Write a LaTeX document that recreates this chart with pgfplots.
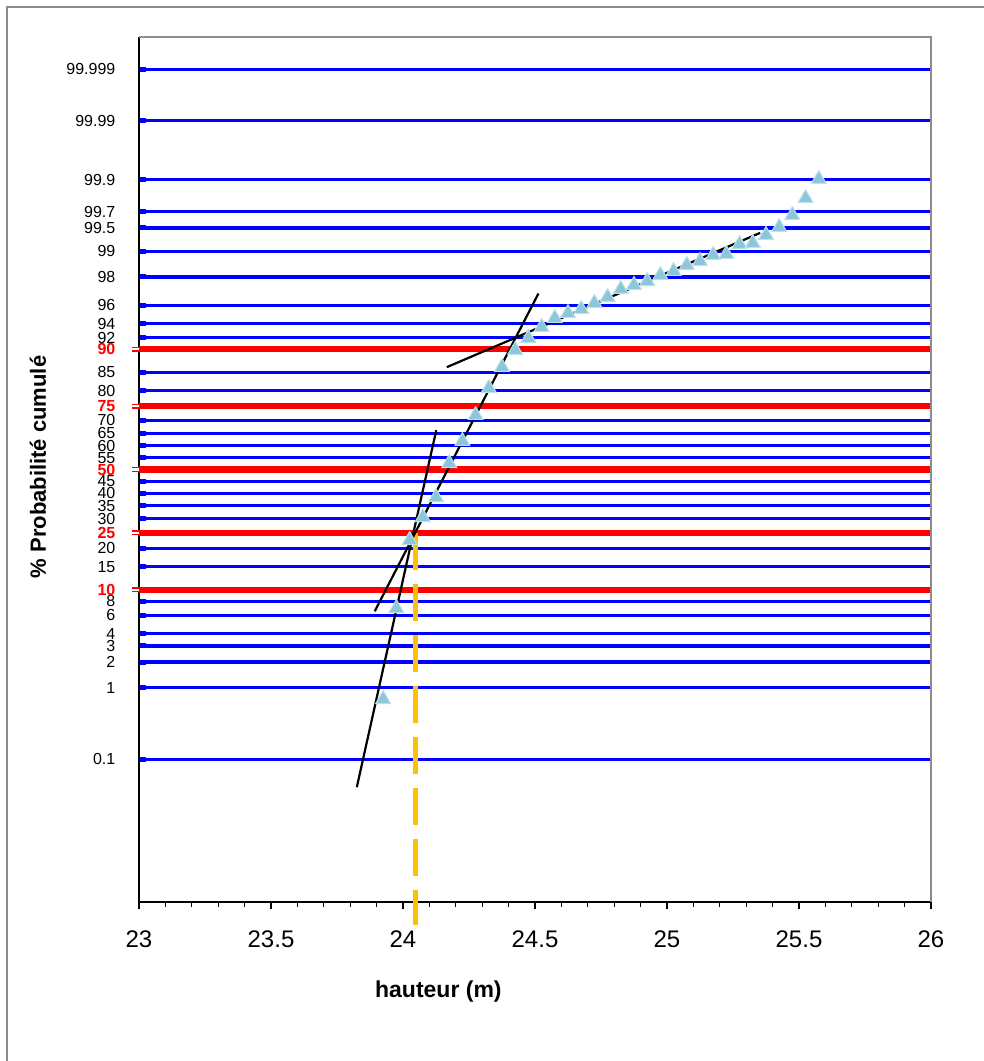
\documentclass[border=0pt]{standalone}
\usepackage{fontspec}
\setmainfont{Liberation Sans}
\usepackage{pgfplots}
\pgfplotsset{compat=1.18}
\definecolor{gridblue}{RGB}{0,0,255}
\definecolor{gridred}{RGB}{255,0,0}
\definecolor{frame}{RGB}{140,140,140}
\definecolor{tri}{RGB}{140,198,218}
\definecolor{triedge}{RGB}{185,225,236}
\definecolor{orng}{RGB}{255,192,0}
\pgfplotstableread{
x z
23.925 -2.449
23.975 -1.479
24.025 -0.754
24.075 -0.509
24.125 -0.296
24.175 0.067
24.225 0.302
24.275 0.579
24.325 0.867
24.375 1.091
24.425 1.272
24.475 1.400
24.525 1.517
24.575 1.613
24.625 1.666
24.675 1.709
24.725 1.773
24.775 1.837
24.825 1.922
24.875 1.965
24.925 2.007
24.975 2.071
25.025 2.114
25.075 2.178
25.125 2.221
25.175 2.285
25.225 2.295
25.275 2.402
25.325 2.413
25.375 2.498
25.425 2.583
25.475 2.711
25.525 2.892
25.575 3.095
}\datatable
\begin{document}
\begin{tikzpicture}[x=1pt,y=1pt]
\useasboundingbox (0,0) rectangle (492,530.5);
\draw[frame, line width=1pt] (3.5,0) -- (3.5,527) -- (492,527);
\begin{axis}[
  at={(69.5pt,79.5pt)}, anchor=south west,
  scale only axis, width=396pt, height=432.5pt,
  xmin=23, xmax=26, ymin=-4.61, ymax=4.61,
  axis lines*=left,
  axis line style={black, line width=0.8pt},
  clip=false,
  xtick={23,23.5,24,24.5,25,25.5,26},
  minor x tick num=4,
  xtick align=outside,
  ytick align=inside,
  major tick length=3.5pt,
  minor tick length=2.5pt,
  xtick style={black, line width=0.6pt},
  ytick style={gridblue, line width=2.5pt},
  /pgf/number format/assume math mode=true,
  xticklabel style={font=\fontsize{12}{14}\selectfont, yshift=-7.5pt},
  ytick={-3.0902,-2.3263,-2.0537,-1.8808,-1.7507,-1.5548,-1.4051,-1.0364,-0.8416,-0.5244,-0.3853,-0.2533,-0.1257,0.1257,0.2533,0.3853,0.5244,0.8416,1.0364,1.4051,1.5548,1.7507,2.0537,2.3263,2.5758,2.7478,3.0902,3.7190,4.2649},
  yticklabels={0.1,1,2,3,4,6,8,15,20,30,35,40,45,55,60,65,70,80,85,92,94,96,98,99,99.5,99.7,99.9,99.99,99.999},
  yticklabel style={font=\fontsize{8}{9.6}\selectfont, xshift=-8.3pt},
  ymajorgrids=true,
  major grid style={gridblue, line width=1.7pt},
  extra y ticks={-1.2816,-0.6745,0,0.6745,1.2816},
  extra y tick labels={10,25,50,75,90},
  extra y tick style={grid=major, major grid style={gridred, line width=3.2pt},
     tick align=outside,
     ytick style={draw=gridred, line width=0.7pt, double=white, double distance=1.1pt},
     yticklabel style={text=gridred, font=\bfseries\fontsize{8}{9.6}\selectfont, xshift=3.5pt}},
  xlabel={hauteur (m)},
  xlabel style={at={(axis description cs:0.378,-0.104)}, anchor=center, font=\bfseries\fontsize{11.5}{13}\selectfont},
  ylabel={\% Probabilité cumulé},
  ylabel style={at={(axis description cs:-0.1275,0.503)}, anchor=center, font=\bfseries\fontsize{11}{13}\selectfont},
]
\addplot[color=orng, line width=2.5pt, dash pattern=on 18.5pt off 7pt] coordinates {(24.046,-0.6745) (24.046,-4.858)};
\addplot[black, line width=1.1pt] coordinates {(23.825,-3.387) (24.126,0.419)};
\addplot[black, line width=1.1pt] coordinates {(23.893,-1.511) (24.513,1.876)};
\addplot[black, line width=1.1pt] coordinates {(24.166,1.091) (25.353,2.522)};
\addplot[only marks, mark=triangle*, mark size=4.3pt, mark options={fill=tri, draw=triedge, line width=0.5pt}] table[x=x, y=z] {\datatable};
\draw[frame, line width=1.2pt] (rel axis cs:0,1) -- (rel axis cs:1,1) -- (rel axis cs:1,0);
\end{axis}
\end{tikzpicture}
\end{document}
